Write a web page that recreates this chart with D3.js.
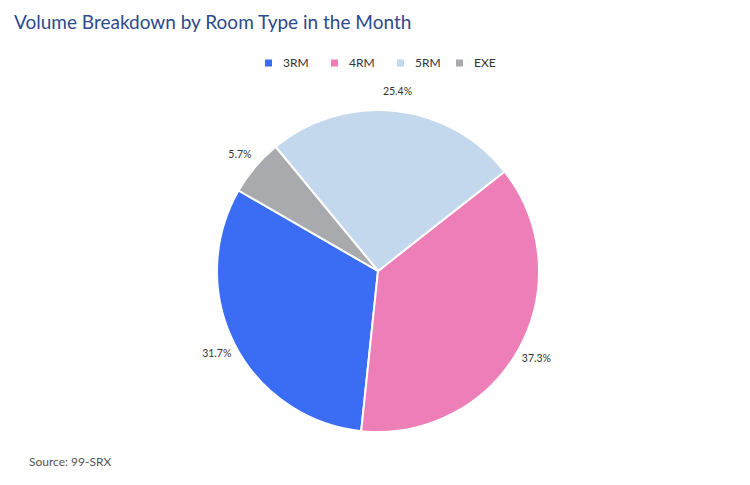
<!DOCTYPE html>
<html>
<head>
<meta charset="utf-8">
<script src="https://cdn.jsdelivr.net/npm/d3@7"></script>
<style>
  body { margin: 0; background: #fff; }
  svg { display: block; font-family: Lato, "Open Sans", sans-serif; }
</style>
</head>
<body>
<div id="chart"></div>
<script>
// chart data
const categories = ["3RM", "4RM", "5RM", "EXE"];
const shares = [31.7, 37.3, 25.4, 5.7];
const colors = ["#3a6df3", "#ee7eb8", "#c4d8ed", "#a9aaad"];

const width = 750;
const height = 485;
const cx = 378, cy = 271;
const radius = 161;
const labelRadius = 181;

const svg = d3.select("#chart")
    .append("svg")
    .attr("width", width)
    .attr("height", height);

// Title
svg.append("text")
    .attr("x", 14)
    .attr("y", 29)
    .style("fill", "#2d4a8c")
    .style("font-size", "19px")
    .text("Volume Breakdown by Room Type in the Month");

// Legend
const legendX = [265, 331, 397, 456];
const legend = svg.append("g");
categories.forEach((c, i) => {
    const g = legend.append("g").attr("transform", `translate(${legendX[i]},63)`);
    g.append("rect")
        .attr("x", 0).attr("y", -3.5)
        .attr("width", 7).attr("height", 7)
        .style("fill", colors[i]);
    g.append("text")
        .attr("x", 18)
        .attr("dy", "0.35em")
        .style("font-size", "12px")
        .style("fill", "#333")
        .text(c);
});

// Pie, drawn counter-clockwise starting from -60 deg
const start = -Math.PI / 3;
const pie = d3.pie()
    .sort(null)
    .value(d => d)
    .startAngle(start)
    .endAngle(start - 2 * Math.PI);

const arcs = pie(shares);

const arc = d3.arc()
    .innerRadius(0)
    .outerRadius(radius);

const labelArc = d3.arc()
    .innerRadius(labelRadius)
    .outerRadius(labelRadius);

const g = svg.append("g").attr("transform", `translate(${cx},${cy})`);

g.selectAll("path")
    .data(arcs)
    .join("path")
    .attr("d", arc)
    .style("fill", (d, i) => colors[i])
    .style("stroke", "#fff")
    .style("stroke-width", 2);

g.selectAll("text.lbl")
    .data(arcs)
    .join("text")
    .attr("class", "lbl")
    .attr("transform", d => `translate(${labelArc.centroid(d)})`)
    .attr("text-anchor", "middle")
    .attr("dy", "0.35em")
    .style("font-size", "10.5px")
    .style("fill", "#333")
    .text(d => d.data.toFixed(1) + "%");

// Source
svg.append("text")
    .attr("x", 29)
    .attr("y", 466)
    .style("font-size", "12px")
    .style("fill", "#555")
    .text("Source: 99-SRX");
</script>
</body>
</html>
